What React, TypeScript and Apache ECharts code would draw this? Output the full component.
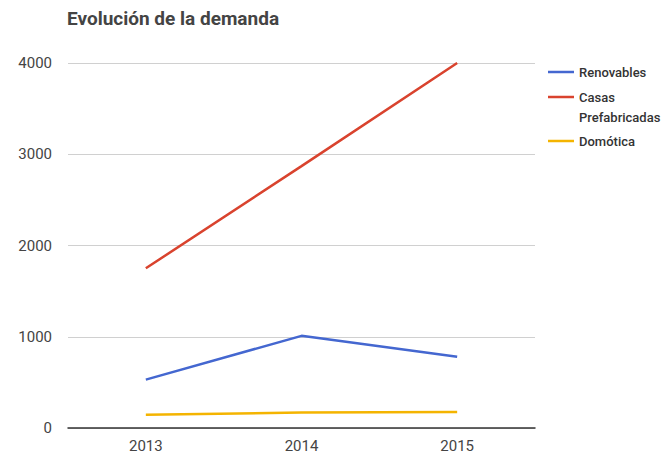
import React, { useEffect, useRef } from "react";
import * as echarts from "echarts";

const title = "Evolución de la demanda";
const categories = ["2013", "2014", "2015"];
const seriesNames = ["Renovables", "Casas Prefabricadas", "Domótica"];
const renovables = [530, 1010, 780];
const casas = [1750, 2870, 4000];
const domotica = [145, 170, 175];
const colors = ["#4467d0", "#d9432e", "#f4b400"];

export default function App() {
  const ref = useRef<HTMLDivElement>(null);
  useEffect(() => {
    document.body.style.margin = "0";
    const chart = echarts.init(ref.current!, undefined, { renderer: "svg" });
    const legendText = {
      color: "#333",
      fontFamily: "Roboto",
      fontSize: 13,
      fontWeight: 500,
      lineHeight: 20,
    };
    const legendBase = {
      orient: "vertical",
      left: 548,
      padding: 0,
      itemWidth: 26,
      itemHeight: 14,
      itemGap: 6,
      icon: "path://M0,6 L26,6 L26,8.5 L0,8.5 Z",
      textStyle: legendText,
    };
    chart.setOption({
      animation: false,
      color: colors,
      title: {
        text: title,
        left: 67,
        top: 9,
        padding: 0,
        textStyle: {
          fontFamily: "Roboto",
          fontSize: 19,
          fontWeight: "bold",
          color: "#444",
        },
      },
      legend: [
        { ...legendBase, top: 62, data: [seriesNames[0]] },
        {
          ...legendBase,
          top: 67,
          data: [seriesNames[1]],
          formatter: () => " \nCasas\nPrefabricadas",
        },
        { ...legendBase, top: 131, data: [seriesNames[2]] },
      ],
      grid: { left: 68, right: 129, top: 63, bottom: 29 },
      xAxis: {
        type: "category",
        data: categories,
        boundaryGap: true,
        axisTick: { show: false },
        axisLine: { lineStyle: { color: "#333", width: 1.5 } },
        axisLabel: {
          margin: 10,
          color: "#444",
          fontFamily: "Roboto",
          fontSize: 15,
        },
      },
      yAxis: {
        type: "value",
        min: 0,
        max: 4000,
        interval: 1000,
        axisLine: { show: false },
        axisTick: { show: false },
        splitLine: { lineStyle: { color: "#d0d0d0", width: 1 } },
        axisLabel: {
          margin: 16,
          color: "#444",
          fontFamily: "Roboto",
          fontSize: 15,
          formatter: (v: number) => String(v),
        },
      },
      series: [
        { name: seriesNames[0], type: "line", data: renovables, showSymbol: false, symbol: "none", lineStyle: { width: 2.5 } },
        { name: seriesNames[1], type: "line", data: casas, showSymbol: false, symbol: "none", lineStyle: { width: 2.5 } },
        { name: seriesNames[2], type: "line", data: domotica, showSymbol: false, symbol: "none", lineStyle: { width: 2.5 } },
      ],
    });
    return () => chart.dispose();
  }, []);
  return (
    <div
      ref={ref}
      style={{ position: "absolute", left: 0, top: 0, width: 664, height: 457 }}
    />
  );
}
